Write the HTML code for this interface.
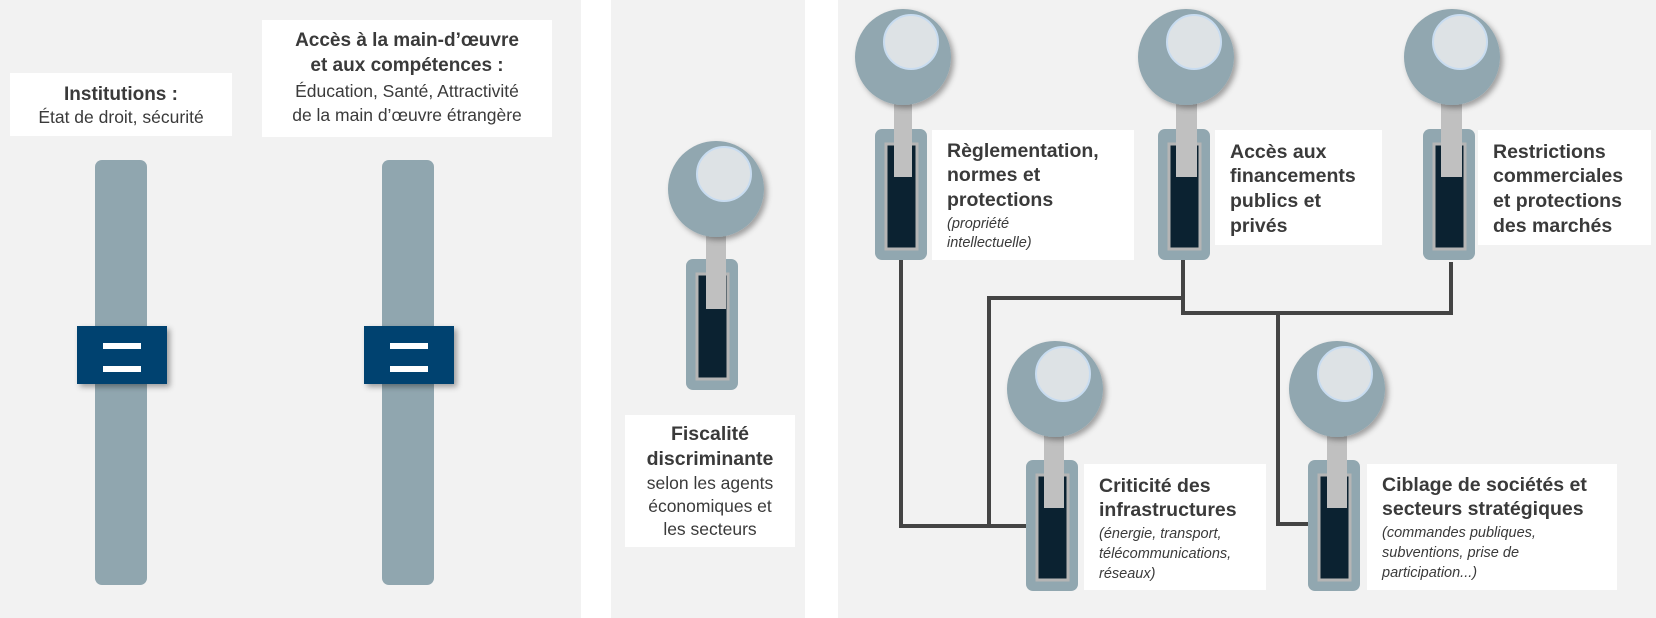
<!DOCTYPE html>
<html><head><meta charset="utf-8"><style>
html,body{margin:0;padding:0;background:#fff;}
svg{display:block;}
text{font-family:"Liberation Sans",sans-serif;fill:#3a3a3a;}
.b{font-weight:bold;font-size:19px;}
.r{font-size:17.5px;}
.h{font-weight:bold;font-size:19.5px;}
.i{font-style:italic;font-size:14.5px;}
</style></head><body>
<svg width="1656" height="618" viewBox="0 0 1656 618" xmlns="http://www.w3.org/2000/svg">
<defs>
<filter id="sh" x="-30%" y="-30%" width="170%" height="170%"><feDropShadow dx="3" dy="3" stdDeviation="3" flood-color="#000" flood-opacity="0.35"/></filter>
<g id="knob">
  <circle cx="0" cy="0" r="48" fill="#91a7b0" filter="url(#sh)"/>
  <circle cx="8" cy="-15" r="27" fill="#dde2e5" stroke="#c8dcf0" stroke-width="2"/>
</g>
<g id="slot">
  <rect x="-26" y="0" width="52" height="131" rx="7" fill="#91a7b0"/>
  <rect x="-15" y="15" width="31" height="105" fill="#0b2231" stroke="#b5b5b5" stroke-width="3"/>
</g>
</defs>
<rect x="0" y="0" width="581" height="618" fill="#f2f2f2"/>
<rect x="611" y="0" width="194" height="618" fill="#f2f2f2"/>
<rect x="838" y="0" width="818" height="618" fill="#f2f2f2"/>

<!-- left panel -->
<rect x="10" y="73" width="222" height="63" fill="#fff"/>
<text class="b" x="121" y="100" text-anchor="middle">Institutions :</text>
<text class="r" x="121" y="123" text-anchor="middle">État de droit, sécurité</text>
<rect x="262" y="20" width="290" height="117" fill="#fff"/>
<text class="b" x="407" y="46" text-anchor="middle">Accès à la main-d’œuvre</text>
<text class="b" x="407" y="71" text-anchor="middle">et aux compétences :</text>
<text class="r" x="407" y="97" text-anchor="middle">Éducation, Santé, Attractivité</text>
<text class="r" x="407" y="121" text-anchor="middle">de la main d’œuvre étrangère</text>

<rect x="95" y="160" width="52" height="425" rx="7" fill="#90a6af"/>
<rect x="382" y="160" width="52" height="425" rx="7" fill="#90a6af"/>
<rect x="77" y="326" width="90" height="58" fill="#004270" filter="url(#sh)"/>
<rect x="103" y="343" width="38" height="6" fill="#fff"/>
<rect x="103" y="366" width="38" height="6" fill="#fff"/>
<rect x="364" y="326" width="90" height="58" fill="#004270" filter="url(#sh)"/>
<rect x="390" y="343" width="38" height="6" fill="#fff"/>
<rect x="390" y="366" width="38" height="6" fill="#fff"/>

<!-- middle panel -->
<use href="#slot" x="712" y="259"/>
<rect x="706" y="230" width="20" height="79" fill="#c0c0c0"/>
<use href="#knob" x="716" y="189"/>
<rect x="625" y="415" width="170" height="132" fill="#fff"/>
<text class="h" x="710" y="440" text-anchor="middle">Fiscalité</text>
<text class="h" x="710" y="465" text-anchor="middle">discriminante</text>
<text class="r" x="710" y="489" text-anchor="middle">selon les agents</text>
<text class="r" x="710" y="512" text-anchor="middle">économiques et</text>
<text class="r" x="710" y="535" text-anchor="middle">les secteurs</text>

<!-- connectors -->
<g fill="none" stroke="#444" stroke-width="4">
<polyline points="901,260 901,526 1027,526"/>
<polyline points="989,526 989,298 1183,298"/>
<polyline points="1183,260 1183,313 1451,313 1451,262"/>
<polyline points="1278,313 1278,524 1308,524"/>
</g>

<!-- right panel sliders -->
<use href="#slot" x="901" y="129"/>
<rect x="894" y="90" width="18" height="87" fill="#c0c0c0"/>
<use href="#knob" x="903" y="57"/>
<use href="#slot" x="1184" y="129"/>
<rect x="1176" y="90" width="21" height="87" fill="#c0c0c0"/>
<use href="#knob" x="1186" y="57"/>
<use href="#slot" x="1449" y="129"/>
<rect x="1441" y="90" width="21" height="87" fill="#c0c0c0"/>
<use href="#knob" x="1452" y="57"/>
<use href="#slot" x="1052" y="460"/>
<rect x="1044" y="420" width="20" height="88" fill="#c0c0c0"/>
<use href="#knob" x="1055" y="389"/>
<use href="#slot" x="1334" y="460"/>
<rect x="1327" y="420" width="20" height="88" fill="#c0c0c0"/>
<use href="#knob" x="1337" y="389"/>

<!-- right text boxes -->
<rect x="932" y="130" width="202" height="130" fill="#fff"/>
<text class="h" x="947" y="157">Règlementation,</text>
<text class="h" x="947" y="181">normes et</text>
<text class="h" x="947" y="206">protections</text>
<text class="i" x="947" y="228">(propriété</text>
<text class="i" x="947" y="247">intellectuelle)</text>

<rect x="1215" y="130" width="167" height="115" fill="#fff"/>
<text class="h" x="1230" y="158">Accès aux</text>
<text class="h" x="1230" y="182">financements</text>
<text class="h" x="1230" y="207">publics et</text>
<text class="h" x="1230" y="232">privés</text>

<rect x="1478" y="130" width="173" height="115" fill="#fff"/>
<text class="h" x="1493" y="158">Restrictions</text>
<text class="h" x="1493" y="182">commerciales</text>
<text class="h" x="1493" y="207">et protections</text>
<text class="h" x="1493" y="232">des marchés</text>

<rect x="1084" y="464" width="182" height="126" fill="#fff"/>
<text class="h" x="1099" y="492">Criticité des</text>
<text class="h" x="1099" y="516">infrastructures</text>
<text class="i" x="1099" y="538">(énergie, transport,</text>
<text class="i" x="1099" y="558">télécommunications,</text>
<text class="i" x="1099" y="578">réseaux)</text>

<rect x="1367" y="464" width="250" height="126" fill="#fff"/>
<text class="h" x="1382" y="491">Ciblage de sociétés et</text>
<text class="h" x="1382" y="515">secteurs stratégiques</text>
<text class="i" x="1382" y="537">(commandes publiques,</text>
<text class="i" x="1382" y="557">subventions, prise de</text>
<text class="i" x="1382" y="577">participation...)</text>
</svg>
</body></html>
